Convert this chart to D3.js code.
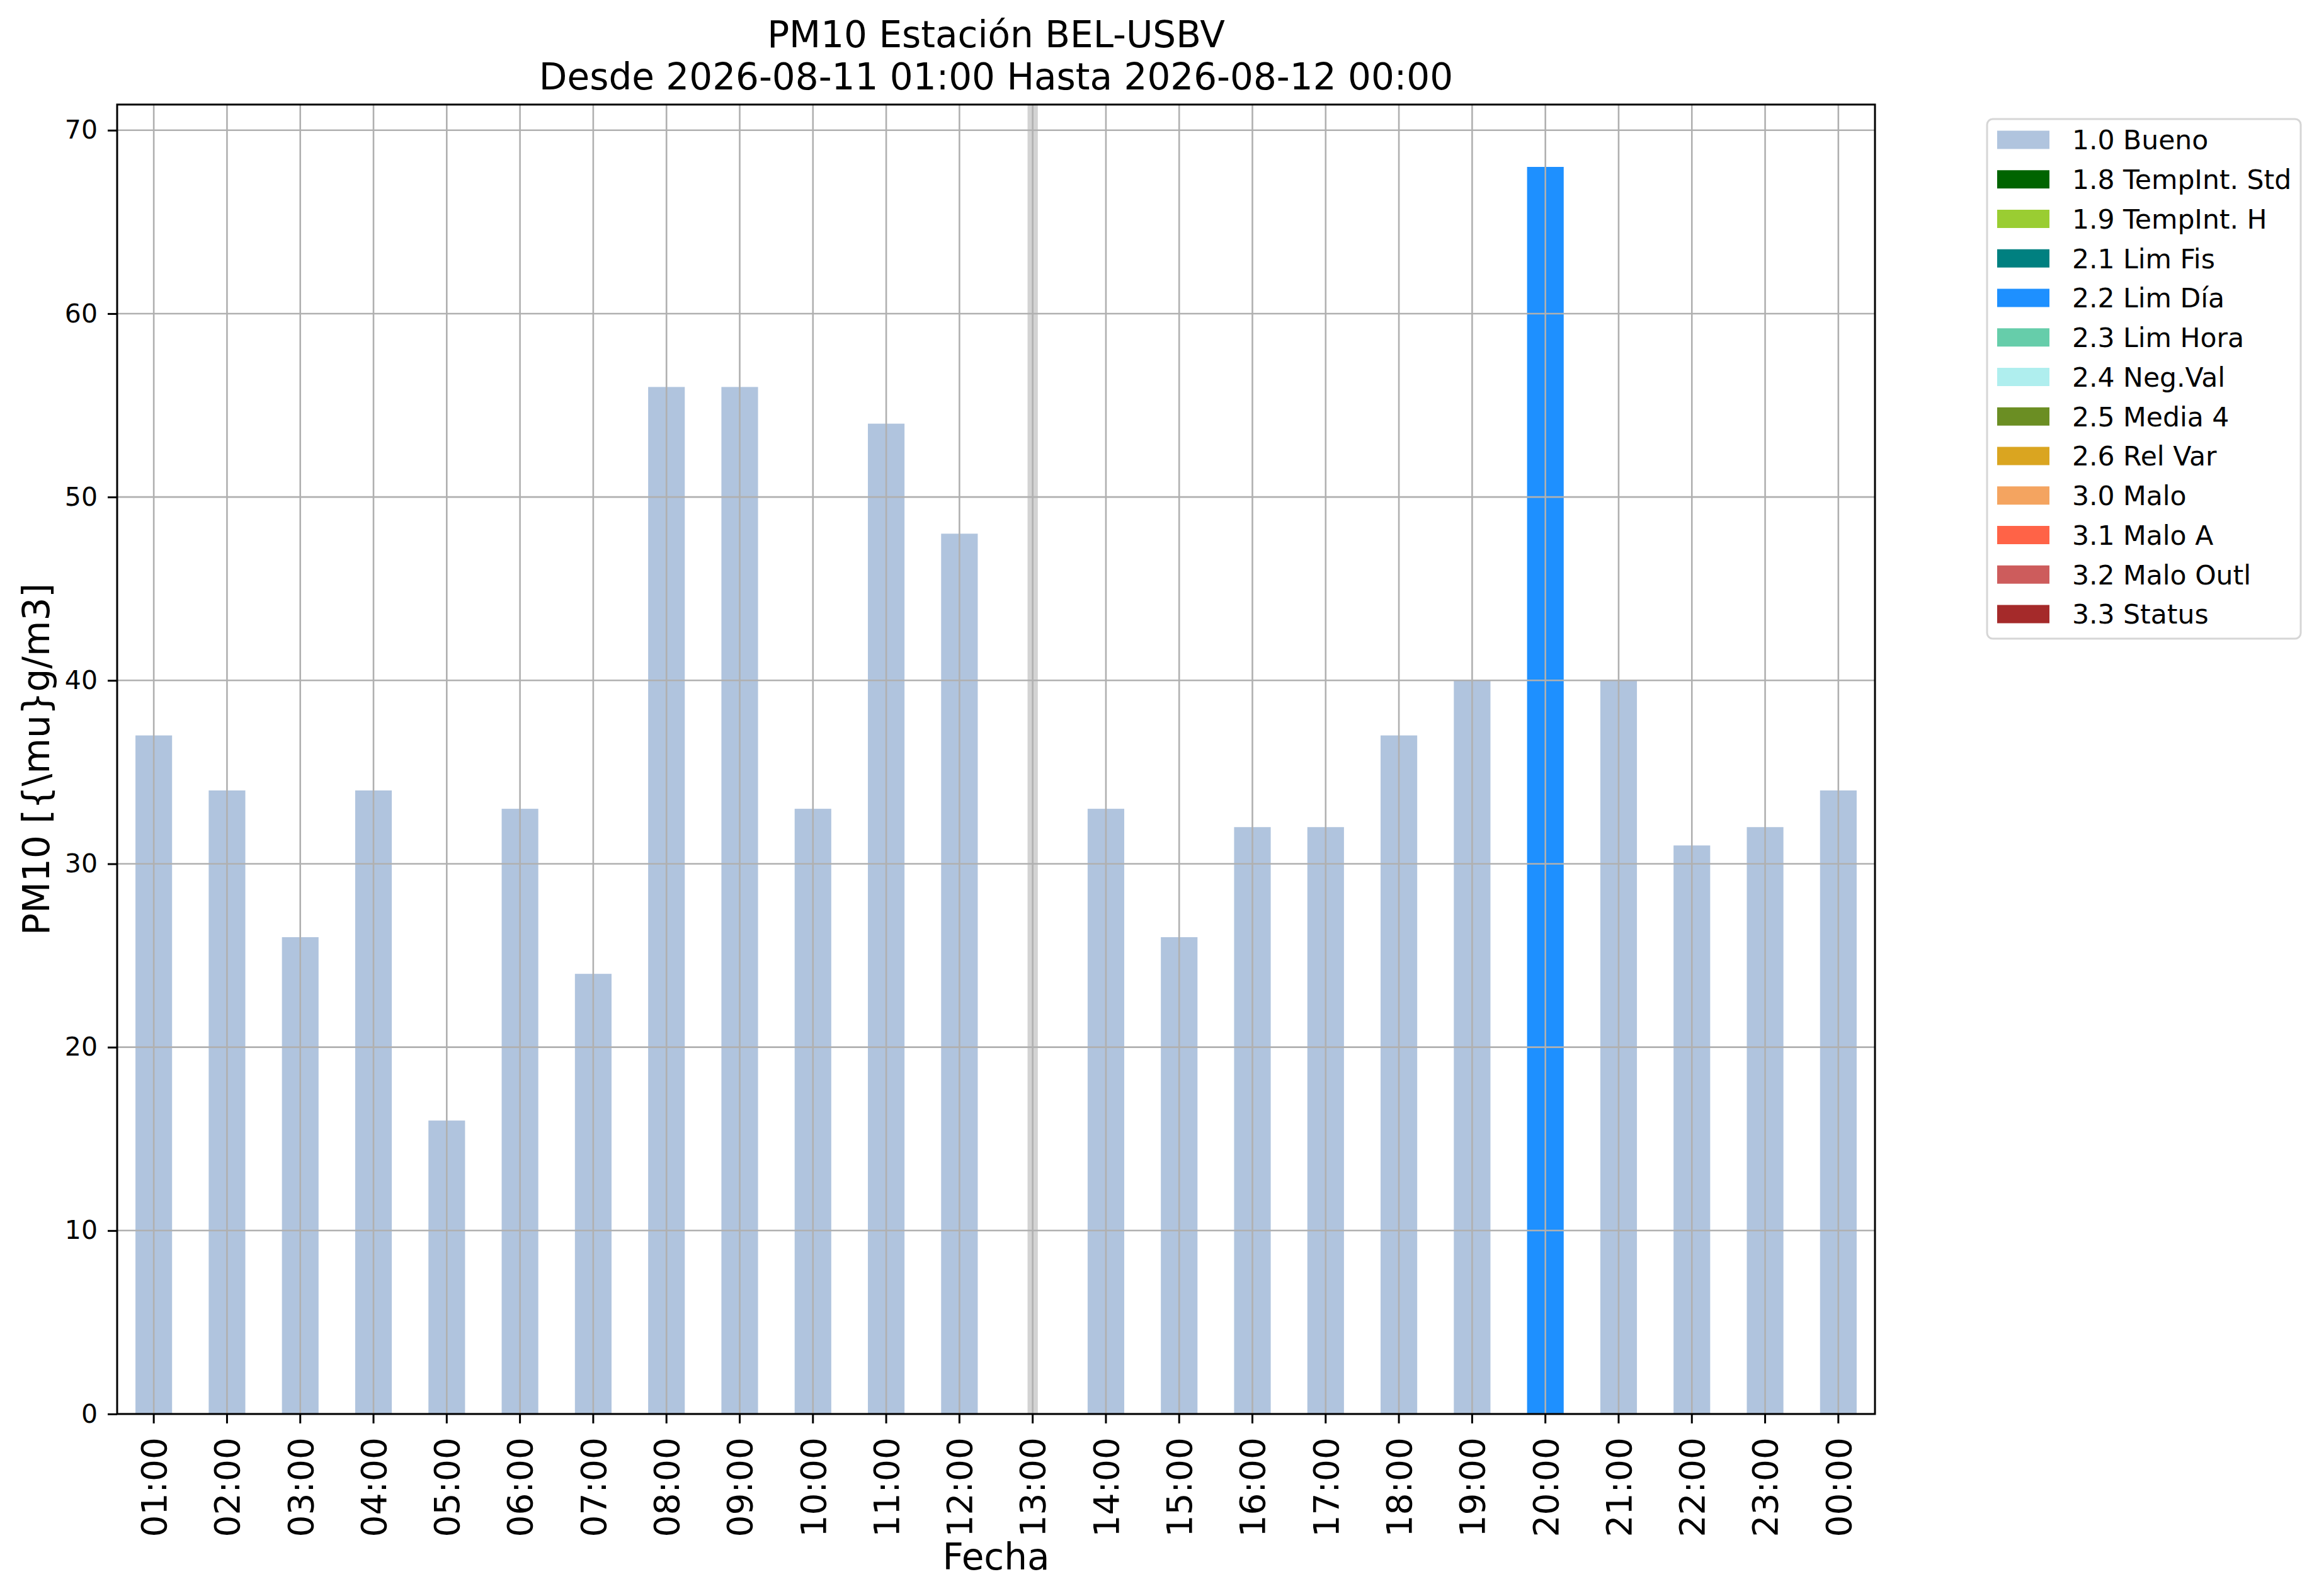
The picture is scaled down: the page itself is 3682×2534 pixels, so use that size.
<!DOCTYPE html>
<html>
<head>
<meta charset="utf-8">
<script src="https://cdn.jsdelivr.net/npm/d3@7"></script>
<style>
  body { margin: 0; background: #fff; }
  svg { display: block; font-family: 'DejaVu Sans', sans-serif; }
</style>
</head>
<body>
<div id="chart"></div>
<script>
// Data
const hours = ['01:00', '02:00', '03:00', '04:00', '05:00', '06:00', '07:00', '08:00',
  '09:00', '10:00', '11:00', '12:00', '13:00', '14:00', '15:00', '16:00',
  '17:00', '18:00', '19:00', '20:00', '21:00', '22:00', '23:00', '00:00'];
const pm10 = [37, 34, 26, 34, 16, 33, 24, 56, 56, 33, 54, 48, null, 33, 26, 32,
  32, 37, 40, 68, 40, 31, 32, 34];
const flags = ['1.0', '1.0', '1.0', '1.0', '1.0', '1.0', '1.0', '1.0', '1.0', '1.0', '1.0', '1.0', null,
  '1.0', '1.0', '1.0', '1.0', '1.0', '1.0', '2.2', '1.0', '1.0', '1.0', '1.0'];
const missingHours = ['13:00'];

const flagCodes = ['1.0', '1.8', '1.9', '2.1', '2.2', '2.3', '2.4', '2.5', '2.6', '3.0', '3.1', '3.2', '3.3'];
const flagNames = ['Bueno', 'TempInt. Std', 'TempInt. H', 'Lim Fis', 'Lim Día', 'Lim Hora',
  'Neg.Val', 'Media 4', 'Rel Var', 'Malo', 'Malo A', 'Malo Outl', 'Status'];
const flagColors = ['#b0c4de', '#006400', '#9acd32', '#008080', '#1e90ff', '#66cdaa',
  '#afeeee', '#6b8e23', '#daa520', '#f4a460', '#ff6347', '#cd5c5c', '#a52a2a'];
const yTicks = [0, 10, 20, 30, 40, 50, 60, 70];

const W = 3682, H = 2534;
const plot = { left: 186, right: 2977, top: 166, bottom: 2245 };
const GRID = '#b0b0b0';

const svg = d3.select('#chart').append('svg')
  .attr('width', W)
  .attr('height', H);

svg.append('rect').attr('width', W).attr('height', H).attr('fill', '#fff');

const x = d3.scaleBand()
  .domain(hours)
  .range([plot.left, plot.right])
  .paddingInner(0.5)
  .paddingOuter(0.25);
const xc = d => x(d) + x.bandwidth() / 2;

const y = d3.scaleLinear()
  .domain([0, d3.max(pm10) * 1.05])
  .range([plot.bottom, plot.top]);

const color = d3.scaleOrdinal().domain(flagCodes).range(flagColors);

const rows = hours.map((h, i) => ({ hour: h, value: pm10[i], flag: flags[i] }));

// Missing hour band
svg.append('g')
  .selectAll('rect')
  .data(missingHours)
  .join('rect')
  .attr('x', d => xc(d) - x.step() * 0.07)
  .attr('width', x.step() * 0.14)
  .attr('y', plot.top)
  .attr('height', plot.bottom - plot.top)
  .attr('fill', '#d3d3d3');

// Bars
svg.append('g')
  .selectAll('rect')
  .data(rows.filter(d => d.value != null))
  .join('rect')
  .attr('x', d => x(d.hour))
  .attr('width', x.bandwidth())
  .attr('y', d => y(d.value))
  .attr('height', d => y(0) - y(d.value))
  .attr('fill', d => color(d.flag));

// Grid (on top of bars, like the original)
const grid = svg.append('g').attr('stroke', GRID).attr('stroke-width', 2.6);
grid.selectAll('line.v')
  .data(hours)
  .join('line')
  .attr('class', 'v')
  .attr('x1', xc).attr('x2', xc)
  .attr('y1', plot.top).attr('y2', plot.bottom);
grid.selectAll('line.h')
  .data(yTicks)
  .join('line')
  .attr('class', 'h')
  .attr('x1', plot.left).attr('x2', plot.right)
  .attr('y1', d => y(d)).attr('y2', d => y(d));

// Axes
const yAxis = svg.append('g')
  .attr('transform', `translate(${plot.left},0)`)
  .call(d3.axisLeft(y).tickValues(yTicks).tickSize(15).tickPadding(16));
yAxis.select('.domain').remove();
yAxis.selectAll('line').attr('stroke', '#000').attr('stroke-width', 3);
yAxis.selectAll('text')
  .attr('font-size', 41)
  .attr('font-family', 'DejaVu Sans')
  .attr('fill', '#000');

const xAxis = svg.append('g')
  .attr('transform', `translate(0,${plot.bottom})`)
  .call(d3.axisBottom(x).tickSize(15).tickPadding(0));
xAxis.select('.domain').remove();
xAxis.selectAll('line').attr('stroke', '#000').attr('stroke-width', 3);
xAxis.selectAll('text')
  .attr('font-size', 55)
  .attr('font-family', 'DejaVu Sans')
  .attr('fill', '#000')
  .attr('text-anchor', 'end')
  .attr('dy', '0.36em')
  .attr('transform', 'translate(0,37) rotate(-90)')
  .attr('x', 0)
  .attr('y', 0);

// Frame
svg.append('rect')
  .attr('x', plot.left).attr('y', plot.top)
  .attr('width', plot.right - plot.left)
  .attr('height', plot.bottom - plot.top)
  .attr('fill', 'none')
  .attr('stroke', '#000')
  .attr('stroke-width', 3);

// Titles
const title = svg.append('text')
  .attr('text-anchor', 'middle')
  .attr('font-size', 58)
  .attr('fill', '#000');
title.append('tspan').attr('x', (plot.left + plot.right) / 2).attr('y', 75).text('PM10 Estación BEL-USBV');
title.append('tspan').attr('x', (plot.left + plot.right) / 2).attr('y', 142).text('Desde 2026-08-11 01:00 Hasta 2026-08-12 00:00');

svg.append('text')
  .attr('x', (plot.left + plot.right) / 2)
  .attr('y', 2492)
  .attr('text-anchor', 'middle')
  .attr('font-size', 58)
  .text('Fecha');

svg.append('text')
  .attr('transform', `translate(78,${(plot.top + plot.bottom) / 2}) rotate(-90)`)
  .attr('text-anchor', 'middle')
  .attr('font-size', 58)
  .text('PM10 [{\\mu}g/m3]');

// Legend
const legend = svg.append('g');
legend.append('rect')
  .attr('x', 3155).attr('y', 189)
  .attr('width', 498).attr('height', 825)
  .attr('rx', 9)
  .attr('fill', '#fff')
  .attr('stroke', '#d6d6d6')
  .attr('stroke-width', 3);

const item = legend.selectAll('g.item')
  .data(flagCodes)
  .join('g')
  .attr('class', 'item')
  .attr('transform', (d, i) => `translate(0,${222 + i * 62.75})`);
item.append('rect')
  .attr('x', 3171).attr('y', -14.5)
  .attr('width', 83).attr('height', 29)
  .attr('fill', d => color(d));
item.append('text')
  .attr('x', 3290)
  .attr('dy', '0.36em')
  .attr('font-size', 42.5)
  .text((d, i) => `${d} ${flagNames[i]}`);
</script>
</body>
</html>
